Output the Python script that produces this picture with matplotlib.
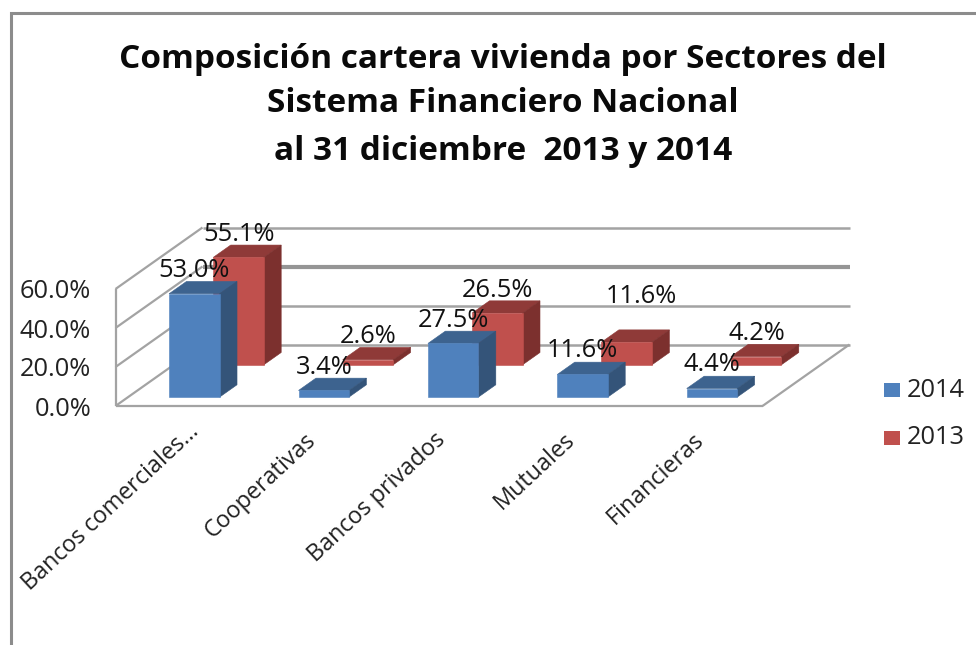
import matplotlib
matplotlib.use("Agg")
import matplotlib.pyplot as plt
from matplotlib.patches import Polygon, Rectangle

# ---- data ----
categories = ["Bancos comerciales…", "Cooperativas", "Bancos privados", "Mutuales", "Financieras"]
values_2014 = [53.0, 3.4, 27.5, 11.6, 4.4]
values_2013 = [55.1, 2.6, 26.5, 11.6, 4.2]
axis_ticks = [0, 20, 40, 60]
title_lines = ["Composición cartera vivienda por Sectores del",
               "Sistema Financiero Nacional",
               "al 31 diciembre  2013 y 2014"]

# ---- geometry (pixels in the 976x645 picture) ----
X0, Y0 = 115.5, 406.0      # front-left floor corner
PX_PER_PCT = 1.95
CAT_W = 129.4
DEPTH_DX, DEPTH_DY = 87.0, -61.5
BAR_OFF, BAR_W = 41.0, 50.5
RED_SHIFT = -1.5
GRAY = "#a3a3a3"


def project(cat, val, depth):
    """Category position, percent value, depth (0 front .. 1 back) -> picture pixel."""
    return (X0 + cat * CAT_W + depth * DEPTH_DX,
            Y0 - val * PX_PER_PCT + depth * DEPTH_DY)


fig = plt.figure(figsize=(9.76, 6.45), dpi=100, facecolor="white")
ax = fig.add_axes([0, 0, 1, 1])
ax.set_xlim(0, 976)
ax.set_ylim(645, 0)
ax.axis("off")

# outer chart frame
ax.plot([11, 11, 976], [645, 13, 13], color="#8c8c8c", lw=2.2, solid_joinstyle="miter", zorder=1)


def seg(p, q, lw=1.6, color=GRAY):
    ax.plot([p[0], q[0]], [p[1], q[1]], color=color, lw=lw, zorder=2, solid_capstyle="butt")


n = len(categories)
for t in axis_ticks:
    seg(project(0, t, 0), project(0, t, 1))
    seg(project(0, t, 1), project(n, t, 1), lw=3.0 if t == 40 else 1.8,
        color="#959595" if t == 40 else GRAY)
seg(project(0, 0, 0), project(0, axis_ticks[-1], 0))
seg(project(0, 0, 0), project(n, 0, 0))
seg(project(n, 0, 0), project(n, 0, 1))


def bar(cat, val, d0, d1, front, top, side, z, shift=0.0):
    x0 = cat + (BAR_OFF + shift) / CAT_W
    x1 = cat + (BAR_OFF + shift + BAR_W) / CAT_W
    faces = [
        ([(x0, val, d0), (x1, val, d0), (x1, val, d1), (x0, val, d1)], top),
        ([(x1, 0, d0), (x1, 0, d1), (x1, val, d1), (x1, val, d0)], side),
        ([(x0, 0, d0), (x1, 0, d0), (x1, val, d0), (x0, val, d0)], front),
    ]
    for pts, col in faces:
        ax.add_patch(Polygon([project(*p) for p in pts], closed=True,
                             facecolor=col, edgecolor=col, lw=0.4, zorder=z))


BLUE = ("#4f81bd", "#3d638f", "#345479")
RED = ("#c0504d", "#8f3a38", "#7c302e")
D_BLUE = (0.145, 0.345)
D_RED = (0.67, 0.87)

for i, v in enumerate(values_2013):
    bar(i, v, *D_RED, *RED, 3 + 0.01 * i, shift=RED_SHIFT)
for i, v in enumerate(values_2014):
    bar(i, v, *D_BLUE, *BLUE, 4 + 0.01 * i)

LABEL_FONT = "Open Sans"
LBL = 18.3


def data_label(cat, val, depth, text, dx=0, dy=0):
    x, y = project(cat + (BAR_OFF + BAR_W / 2) / CAT_W, val, depth)
    ax.text(x + dx, y - 23 + dy, text, ha="center", va="center", fontsize=LBL,
            family=LABEL_FONT, color="#111111", zorder=6)


for i, v in enumerate(values_2013):
    shift = (13, -23) if i == 3 else (-1, 0)
    data_label(i, v, D_RED[0], f"{v:.1f}%", *shift)
for i, v in enumerate(values_2014):
    data_label(i, v, D_BLUE[0], f"{v:.1f}%", dy=-1 if i > 2 else 0)

# value axis labels
for t in axis_ticks:
    _, y = project(0, t, 0)
    ax.text(91, y + 3, f"{t:.1f}%", ha="right", va="center", fontsize=LBL,
            family=LABEL_FONT, color="#222222")

# category labels
for i, c in enumerate(categories):
    x, y = project(i + 0.5, 0, 0)
    dx, dy = (15, 22) if i == 0 else (3, 31)
    ax.text(x + dx, y + dy, c, rotation=43, rotation_mode="anchor",
            ha="right", va="center", fontsize=16.8, family=LABEL_FONT, color="#222222")

# title
for line, yy in zip(title_lines, (59, 103, 151)):
    ax.text(503, yy, line, ha="center", va="center", fontsize=24, fontweight="bold",
            family="Open Sans", color="#0a0a0a")

# legend
for name, col, yy in (("2014", BLUE[0], 390), ("2013", RED[0], 437.5)):
    ax.add_patch(Rectangle((884, yy - 7), 16, 14, facecolor=col, edgecolor="none"))
    ax.text(907, yy + 0.5, name, ha="left", va="center", fontsize=LBL, family=LABEL_FONT, color="#222222")

fig.savefig("out.png", dpi=100)
